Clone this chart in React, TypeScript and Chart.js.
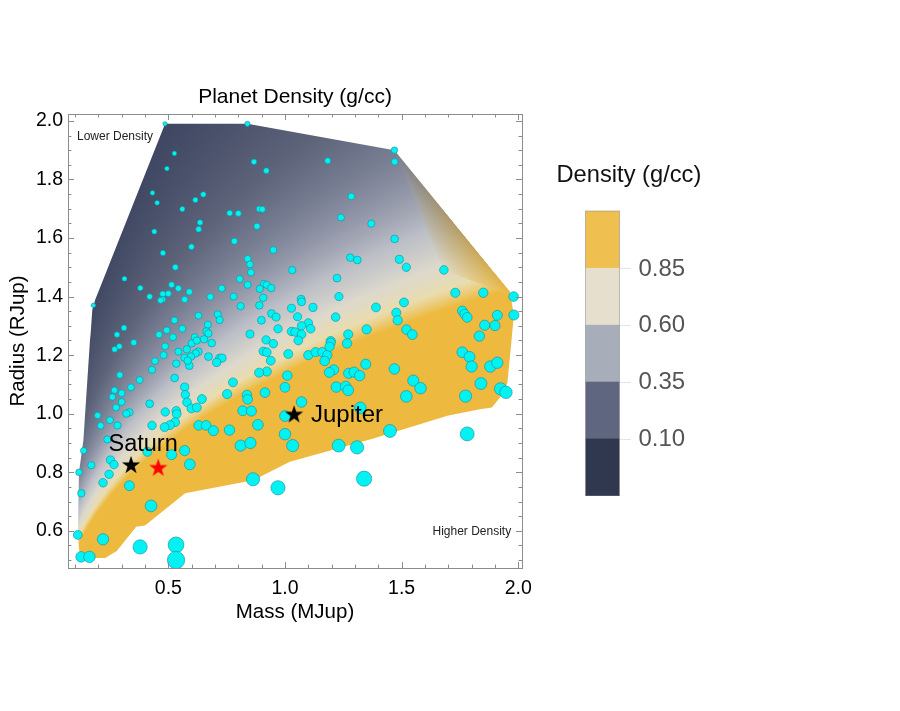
import React, { useEffect, useRef } from "react";
import { Chart, registerables } from "chart.js";

Chart.register(...registerables);

const FONT = '"Liberation Sans", Arial, sans-serif';

const planetMass = [
  .486,.839,.526,.494,.867,.920,.432,.452,.650,.616,.560,.763,.800,.890,.903,.636,.630,.880,.440,.783,.599,.950,.477,.840,.850,.530,.854,.312,.806,.840,.910,.922,.941,.892,.380,.514,.543,.590,.476,.500,.420,.729,.680,.780,.907,.570,.476,.467,.179,.810,.890,.712,.629,.720,.942,.962,.899,.526,.669,.310,.970,.560,.493,.663,.672,.850,.280,.460,.520,.613,.653,.919,
  .352,.290,.270,.486,.480,.543,.579,.600,.622,.686,.629,.617,.597,.569,.672,.720,.730,.707,.443,.534,.590,.583,.430,.907,.922,.939,.922,.889,.950,1.014,1.010,.292,.527,.377,.777,.340,.570,.269,.300,.260,.573,.752,.837,.840,.914,1.000,.644,.300,.420,.580,.276,.599,.622,.534,.536,.487,.819,.856,.333,.320,.197,1.000,.250,.210,.282,.430,.529,.507,.484,.630,.662,.693,.762,.884,.239,.410,.810,.852,1.000,.137,.570,.514,.252,.267,.170,.592,.117,.246,.220,.333,.127,.863,.970,.426,.112,.220,.379,.533,.533,.126,.162,
  1.469,1.470,1.183,1.284,1.240,1.370,1.470,1.280,1.310,1.490,1.520,1.031,1.681,1.223,1.730,1.850,1.231,1.980,1.069,1.071,1.510,1.028,1.120,1.390,1.760,1.770,1.781,1.910,1.981,1.477,1.483,1.054,1.217,1.856,1.900,1.100,1.071,1.110,1.028,1.043,1.071,1.271,1.350,1.521,1.546,1.196,1.833,
  1.057,1.196,1.266,1.100,1.131,1.160,1.181,1.170,1.191,1.346,1.469,1.209,1.190,1.273,1.296,1.320,1.760,1.791,1.800,1.880,1.910,1.550,1.581,1.840,1.220,1.260,1.271,1.924,1.947,1.520,1.774,1.071,1.323,1.450,1.033,1.230,1.309,1.781,1.339,
];
const planetRadius = [
  1.990,1.990,1.889,1.837,1.860,1.830,1.754,1.720,1.749,1.730,1.699,1.685,1.684,1.699,1.698,1.653,1.630,1.640,1.622,1.589,1.570,1.559,1.549,1.529,1.510,1.500,1.482,1.461,1.460,1.440,1.443,1.440,1.429,1.426,1.429,1.440,1.428,1.416,1.409,1.410,1.400,1.428,1.399,1.400,1.396,1.390,1.390,1.387,1.370,1.367,1.370,1.339,1.335,1.320,1.342,1.330,1.319,1.319,1.304,1.293,1.290,1.290,1.285,1.281,1.274,1.272,1.270,1.270,1.261,1.261,1.254,1.252,
  1.243,1.230,1.220,1.230,1.200,1.212,1.220,1.240,1.250,1.241,1.212,1.206,1.195,1.191,1.195,1.189,1.190,1.175,1.180,1.171,1.164,1.181,1.150,1.213,1.210,1.181,1.144,1.140,1.239,1.204,1.130,1.132,1.122,1.115,1.107,1.090,1.091,1.080,1.070,1.057,1.065,1.067,1.064,1.049,1.072,1.090,1.050,1.040,1.034,1.039,1.021,1.018,1.021,1.010,.999,1.006,1.010,1.009,1.005,1.000,.994,.992,.978,.959,.960,.960,.971,.961,.954,.960,.960,.942,.944,.962,.912,.870,.891,.900,.930,.874,.874,.860,.842,.826,.824,.827,.800,.793,.764,.754,.728,.776,.747,.685,.586,.571,.545,.552,.500,.511,.511,
  1.900,1.860,1.864,1.742,1.670,1.649,1.597,1.533,1.525,1.527,1.500,1.490,1.491,1.463,1.413,1.413,1.400,1.400,1.391,1.382,1.380,1.360,1.363,1.363,1.351,1.340,1.329,1.336,1.337,1.345,1.319,1.331,1.330,1.302,1.301,1.310,1.300,1.290,1.281,1.279,1.271,1.271,1.288,1.287,1.270,1.248,1.265,
  1.250,1.242,1.240,1.200,1.210,1.210,1.200,1.180,1.229,1.169,1.153,1.150,1.141,1.138,1.142,1.130,1.210,1.194,1.161,1.161,1.174,1.113,1.087,1.103,1.091,1.093,1.080,1.085,1.073,1.059,1.060,1.040,1.020,.941,.891,.891,.885,.931,.778,
];

const hullMass = [.486,.839,1.469,1.964,1.981,1.971,1.953,1.924,1.887,1.836,1.700,1.379,1.021,.864,.572,.400,.362,.279,.229,.136,.119,.114,.112,.117,.136,.164,.167,.174,.186];
const hullRadius = [1.990,1.990,1.900,1.417,1.337,1.250,1.104,1.058,1.021,1.015,.994,.915,.836,.773,.728,.618,.614,.531,.507,.507,.523,.569,.586,.800,.910,1.250,1.274,1.354,1.388];

// Upper-right facet of the interpolated surface
const facetMass = [1.47, 1.98, 1.68];
const facetRadius = [1.90, 1.40, 1.49];

const rampDensity = [0, .09, .2, .35, .5, .65, .78, .9];
const rampColors = [[48,56,80],[65,72,99],[92,99,121],[138,143,162],[188,191,199],[221,217,204],[234,220,174],[237,186,63]];

const xTicks = [.1,.2,.3,.4,.5,.6,.7,.8,.9,1,1.1,1.2,1.3,1.4,1.5,1.6,1.7,1.8,1.9,2];
const yTicks = [.5,.55,.6,.65,.7,.75,.8,.85,.9,.95,1,1.05,1.1,1.15,1.2,1.25,1.3,1.35,1.4,1.45,1.5,1.55,1.6,1.65,1.7,1.75,1.8,1.85,1.9,1.95,2];
const xLabels = [.5,1,1.5,2];
const yLabels = [.6,.8,1,1.2,1.4,1.6,1.8,2];

const legendLabels = ["0.85", "0.60", "0.35", "0.10"];
const legendColors = ["#efc04f", "#e6dfce", "#a8aeb9", "#5f667f", "#30384f"];

const saturn = { x: .340, y: .825 };
const jupiter = { x: 1.039, y: .998 };
const redStar = { x: .457, y: .816 };

const density = (m: number, r: number) => 1.33 * m / (r * r * r);

function rampColor(rho: number) {
  const n = rampDensity.length;
  if (rho >= rampDensity[n - 1]) return rampColors[n - 1];
  for (let i = 1; i < n; i++) {
    if (rho <= rampDensity[i]) {
      const t = (rho - rampDensity[i - 1]) / (rampDensity[i] - rampDensity[i - 1]);
      const a = rampColors[i - 1], b = rampColors[i];
      return [a[0] + (b[0] - a[0]) * t, a[1] + (b[1] - a[1]) * t, a[2] + (b[2] - a[2]) * t];
    }
  }
  return rampColors[0];
}

function starImage(color: string) {
  const c = document.createElement("canvas");
  c.width = 20; c.height = 20;
  const g = c.getContext("2d")!;
  g.beginPath();
  for (let i = 0; i < 10; i++) {
    const r = i % 2 === 0 ? 9.5 : 3.7;
    const a = -Math.PI / 2 + i * Math.PI / 5;
    g.lineTo(10 + r * Math.cos(a), 10.5 + r * Math.sin(a));
  }
  g.closePath();
  g.fillStyle = color;
  g.fill();
  return c;
}

const fieldPlugin = {
  id: "densityField",
  beforeDatasetsDraw(chart: any) {
    const { ctx, chartArea: a, scales } = chart;
    const sx = scales.x, sy = scales.y;
    const w = Math.round(a.right - a.left), h = Math.round(a.bottom - a.top);
    const off = document.createElement("canvas");
    off.width = w; off.height = h;
    const g = off.getContext("2d")!;
    const img = g.createImageData(w, h);
    const ax = facetMass[0], ay = facetRadius[0], bx = facetMass[1], by = facetRadius[1], cx = facetMass[2], cy = facetRadius[2];
    const fa = rampColor(density(ax, ay)), fb = rampColor(density(bx, by)), fc = rampColor(density(cx, cy));
    const det = (by - cy) * (ax - cx) + (cx - bx) * (ay - cy);
    for (let j = 0; j < h; j++) {
      const r = sy.getValueForPixel(a.top + j + .5);
      for (let i = 0; i < w; i++) {
        const m = sx.getValueForPixel(a.left + i + .5);
        let col = rampColor(density(m, r));
        const l1 = ((by - cy) * (m - cx) + (cx - bx) * (r - cy)) / det;
        const l2 = ((cy - ay) * (m - cx) + (ax - cx) * (r - cy)) / det;
        const l3 = 1 - l1 - l2;
        if (l1 >= 0 && l2 >= 0 && l3 >= 0) {
          col = [0, 1, 2].map((k) => fa[k] * l1 + fb[k] * l2 + fc[k] * l3);
        }
        const p = (j * w + i) * 4;
        img.data[p] = col[0]; img.data[p + 1] = col[1]; img.data[p + 2] = col[2]; img.data[p + 3] = 255;
      }
    }
    g.putImageData(img, 0, 0);
    ctx.save();
    ctx.beginPath();
    hullMass.forEach((m, i) => {
      ctx.lineTo(sx.getPixelForValue(m), sy.getPixelForValue(hullRadius[i]));
    });
    ctx.closePath();
    ctx.clip();
    ctx.drawImage(off, a.left, a.top);
    ctx.restore();
  },
};

const annotationPlugin = {
  id: "annotations",
  afterDatasetsDraw(chart: any) {
    const { ctx, chartArea: a, scales } = chart;
    const sx = scales.x, sy = scales.y;
    ctx.save();
    // inward frame ticks
    ctx.strokeStyle = "#8c8c8c";
    ctx.lineWidth = 1;
    ctx.beginPath();
    xTicks.forEach((v) => {
      const p = Math.round(sx.getPixelForValue(v)) + .5;
      const len = Math.abs(v * 2 - Math.round(v * 2)) < 1e-6 ? 6 : 3.5;
      ctx.moveTo(p, a.bottom); ctx.lineTo(p, a.bottom - len);
      ctx.moveTo(p, a.top); ctx.lineTo(p, a.top + len);
    });
    yTicks.forEach((v) => {
      const p = Math.round(sy.getPixelForValue(v)) + .5;
      const len = Math.abs(v * 5 - Math.round(v * 5)) < 1e-6 ? 6 : 3.5;
      ctx.moveTo(a.left, p); ctx.lineTo(a.left + len, p);
      ctx.moveTo(a.right, p); ctx.lineTo(a.right - len, p);
    });
    ctx.stroke();

    // in-plot text
    ctx.textBaseline = "middle";
    ctx.fillStyle = "#222";
    ctx.font = `12px ${FONT}`;
    ctx.textAlign = "left";
    ctx.fillText("Lower Density", 77, 136.5);
    ctx.fillText("Higher Density", 432.5, 531.5);
    ctx.fillStyle = "#000";
    ctx.font = `23.5px ${FONT}`;
    ctx.fillText("Saturn", 108.5, 445);
    ctx.font = `24px ${FONT}`;
    ctx.fillText("Jupiter", 311, 415);

    // colour key
    ctx.font = `23.7px ${FONT}`;
    ctx.fillStyle = "#111";
    ctx.fillText("Density (g/cc)", 556.5, 175);
    const lx = 585.5, lw = 34, top = 211, step = 56.9;
    legendColors.forEach((c, i) => {
      ctx.fillStyle = c;
      ctx.fillRect(lx, top + i * step, lw, step + .5);
    });
    ctx.strokeStyle = "rgba(120,120,120,.45)";
    ctx.strokeRect(lx, top, lw, step * legendColors.length);
    ctx.font = `24px ${FONT}`;
    legendLabels.forEach((t, i) => {
      const y = top + (i + 1) * step;
      ctx.strokeStyle = "#e4e4e4";
      ctx.beginPath();
      ctx.moveTo(lx + lw + .5, Math.round(y) + .5);
      ctx.lineTo(631, Math.round(y) + .5);
      ctx.stroke();
      ctx.fillStyle = "#555";
      ctx.fillText(t, 638.5, y + 1);
    });
    ctx.restore();
  },
};

export default function App() {
  const ref = useRef<HTMLCanvasElement>(null);
  useEffect(() => {
    const frame = { display: true, color: "#8c8c8c", width: 1 };
    const fixTicks = (vals: number[]) => (s: any) => {
      s.ticks = vals.map((value) => ({ value }));
    };
    const chart = new Chart(ref.current!, {
      type: "scatter",
      data: {
        datasets: [
          { label: "Saturn", data: [saturn], pointStyle: starImage("#000"), pointRadius: 10, order: 0 },
          { label: "Jupiter", data: [jupiter], pointStyle: starImage("#000"), pointRadius: 10, order: 0 },
          { label: "Reference", data: [redStar], pointStyle: starImage("#f00"), pointRadius: 10, order: 0 },
          {
            label: "Planets",
            order: 1,
            data: planetMass.map((x, i) => ({ x, y: planetRadius[i] })),
            backgroundColor: "#00f2f2",
            borderColor: "rgba(20,140,150,.75)",
            borderWidth: .8,
            pointRadius: (c: any) => {
              const p = c.raw;
              return p ? 4.9 * Math.pow(density(p.x, p.y), 0.33) : 3;
            },
          },
        ],
      },
      options: {
        animation: false,
        responsive: false,
        events: [],
        layout: { padding: { left: 6, right: 378, top: 80, bottom: 86 } },
        plugins: {
          legend: { display: false },
          tooltip: { enabled: false },
          title: {
            display: true,
            fullSize: false,
            text: "Planet Density (g/cc)",
            color: "#000",
            font: { family: FONT, size: 21, weight: "normal", lineHeight: 1.2 },
            padding: { top: 5, bottom: 3.8 },
          },
        },
        scales: {
          x: {
            type: "linear", min: .0699, max: 2.0159, position: "bottom",
            afterBuildTicks: fixTicks(xLabels),
            afterFit: (s: any) => { s.height = 57; },
            grid: { display: false, drawTicks: false },
            border: frame,
            ticks: {
              padding: 9, color: "#000", maxRotation: 0, autoSkip: false,
              font: { family: FONT, size: 19.5 },
              callback: (v: any) => Number(v).toFixed(1),
            },
            title: { display: true, text: "Mass (MJup)", color: "#000", padding: 0, font: { family: FONT, size: 20.5, lineHeight: 1.2 } },
          },
          y: {
            type: "linear", min: .473, max: 2.0235, position: "left",
            afterBuildTicks: fixTicks(yLabels),
            afterFit: (s: any) => { s.width = 62; },
            grid: { display: false, drawTicks: false },
            border: frame,
            ticks: {
              padding: 5, color: "#000", autoSkip: false,
              font: { family: FONT, size: 19.5 },
              callback: (v: any) => Number(v).toFixed(1),
            },
            title: { display: true, text: "Radius (RJup)", color: "#000", padding: 0, font: { family: FONT, size: 20.5, lineHeight: 1.2 } },
          },
          x2: {
            type: "linear", min: .0699, max: 2.0159, position: "top",
            afterFit: (s: any) => { s.height = 0; },
            grid: { display: false, drawTicks: false },
            border: frame,
            ticks: { display: false },
          },
          y2: {
            type: "linear", min: .473, max: 2.0235, position: "right",
            afterFit: (s: any) => { s.width = 0; },
            grid: { display: false, drawTicks: false },
            border: frame,
            ticks: { display: false },
          },
        },
      } as any,
      plugins: [fieldPlugin, annotationPlugin],
    });
    return () => chart.destroy();
  }, []);
  return (
    <canvas
      ref={ref}
      width={900}
      height={711}
      style={{ position: "absolute", left: 0, top: 0, width: 900, height: 711 }}
    />
  );
}
